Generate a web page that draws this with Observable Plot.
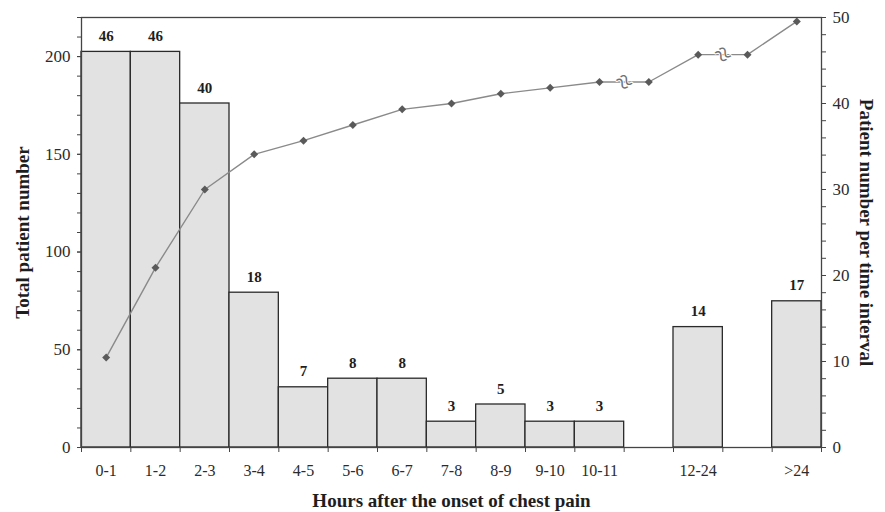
<!DOCTYPE html>
<html><head><meta charset="utf-8">
<script src="https://cdn.jsdelivr.net/npm/d3@7"></script>
<script src="https://cdn.jsdelivr.net/npm/@observablehq/plot@0.6"></script>
<style>
body{margin:0;background:#fff} svg{display:block}
</style>
</head><body><div id="chart"></div>
<script>
// Time slots (null = gap slot on the axis)
const slots = ["0-1","1-2","2-3","3-4","4-5","5-6","6-7","7-8","8-9","9-10","10-11",null,"12-24",null,">24"];
// Patient number per time interval (right axis)
const counts = [46,46,40,18,7,8,8,3,5,3,3,null,14,null,17];
// Total (cumulative) patient number (left axis)
const cumulative = [46,92,132,150,157,165,173,176,181,184,187,187,201,201,218];
const leftTicks = [0,50,100,150,200];
const rightTicks = [0,10,20,30,40,50];
const LEFT_MAX = 220, RIGHT_MAX = 50;
const k = LEFT_MAX / RIGHT_MAX;

const slotData = slots.map((s,i)=>({i, label:s, count:counts[i], cum:cumulative[i]}));
const bars = slotData.filter(d=>d.label!==null);
const breaks = slotData.filter(d=>d.label===null).map(d=>({x:d.i, y:d.cum}));
const labelAt = new Map(bars.map(d=>[d.i+0.5, d.label]));

const chart = Plot.plot({
  width: 885, height: 512,
  marginLeft: 81, marginRight: 64, marginTop: 17, marginBottom: 65,
  style: {fontFamily: "Liberation Serif", fontSize: "16px", color: "#2b2b2b", background: "#fff"},
  x: {type: "linear", domain: [0, slots.length]},
  y: {domain: [0, LEFT_MAX]},
  marks: [
    Plot.rectY(bars, {x1: d=>d.i, x2: d=>d.i+1, y1: 0, y2: d=>d.count*k, fill: "#e2e2e2", stroke: "#2a2a2a", strokeWidth: 1.3}),
    Plot.text(bars, {x: d=>d.i+0.5, y: d=>d.count*k, text: d=>String(d.count), lineAnchor: "bottom", dy: -11, fontWeight: "bold", fontSize: 15, fill: "#1e1e1e"}),
    Plot.line(slotData, {x: d=>d.i+0.5, y: "cum", stroke: "#8a8a8a", strokeWidth: 1.4}),
    Plot.text(breaks, {x: "x", y: "y", text: ()=>"≈", rotate: 50, fontSize: 28, fontWeight: "normal", fill: "#707070", stroke: "white", strokeWidth: 2}),
    Plot.dot(slotData, {x: d=>d.i+0.5, y: "cum", symbol: "diamond2", r: 3.6, fill: "#5a5a5a", stroke: "none"}),
    Plot.frame({stroke: "#444", strokeWidth: 1.3}),
    // left axis
    Plot.axisY(d3.range(0, LEFT_MAX + 1, 10), {anchor: "left", tickSize: 4, tickFormat: ()=>"", stroke: "#444", label: null}),
    Plot.axisY(leftTicks, {anchor: "left", tickSize: 4, tickPadding: 7, fontSize: 17, stroke: "#444", label: null}),
    // right axis
    Plot.axisY(d3.range(0, RIGHT_MAX + 1, 2).map(v=>v*k), {anchor: "right", tickSize: 4, tickFormat: ()=>"", stroke: "#444", label: null}),
    Plot.axisY(rightTicks.map(v=>v*k), {anchor: "right", tickSize: 4, tickPadding: 7, fontSize: 17, stroke: "#444", tickFormat: v=>String(Math.round(v/k)), label: null}),
    // x axis
    Plot.axisX(d3.range(0, slots.length + 1), {tickSize: 5, tickFormat: ()=>"", stroke: "#444", label: null}),
    Plot.axisX(bars.map(d=>d.i+0.5), {tickSize: 0, tickPadding: 17, fontSize: 16, tickFormat: v=>labelAt.get(v), label: null}),
    // titles
    Plot.text(["Total patient number"], {frameAnchor: "left", textAnchor: "middle", rotate: -90, dx: -59, fontWeight: "bold", fontSize: 19, fill: "#1e1e1e"}),
    Plot.text(["Patient number per time interval"], {frameAnchor: "right", textAnchor: "middle", rotate: 90, dx: 45, fontWeight: "bold", fontSize: 19, fill: "#1e1e1e"}),
    Plot.text(["Hours after the onset of chest pain"], {frameAnchor: "bottom", textAnchor: "middle", dy: 59, fontWeight: "bold", fontSize: 19, fill: "#1e1e1e"})
  ]
});
document.getElementById("chart").appendChild(chart);
</script>
</body></html>
